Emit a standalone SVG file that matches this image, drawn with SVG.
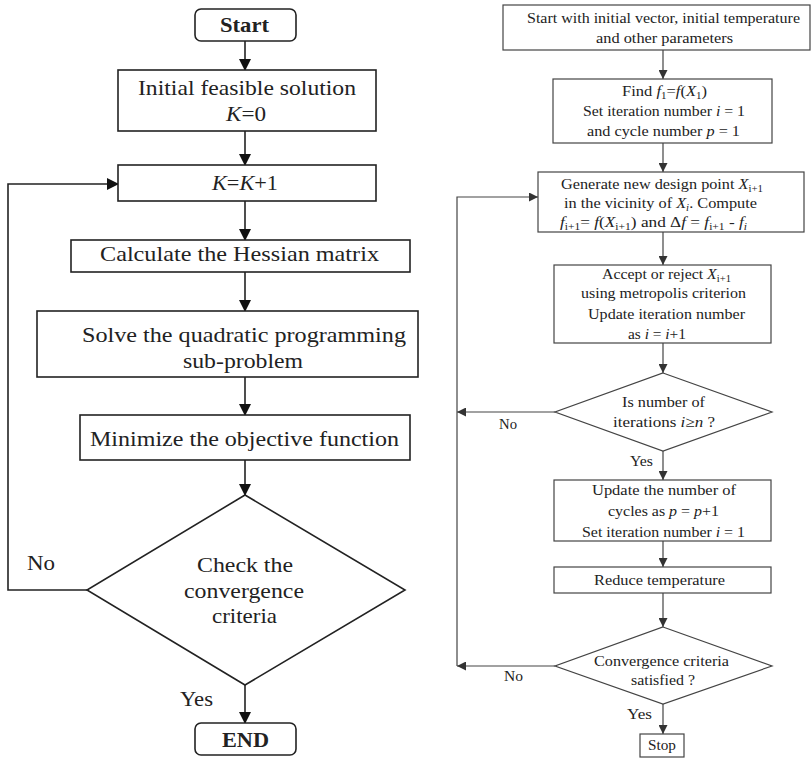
<svg xmlns="http://www.w3.org/2000/svg" width="811" height="758" viewBox="0 0 811 758">
<style>
.bg{fill:#fff}
.L{fill:#fff;stroke:#222;stroke-width:1.6}
.R{fill:#fff;stroke:#444;stroke-width:1.2}
.tl{font-family:"Liberation Serif","Times New Roman",serif;font-size:21px;fill:#222}
.tb{font-weight:bold}
.tr{font-family:"Liberation Serif","Times New Roman",serif;font-size:15px;fill:#222}
.i{font-style:italic}
.s{font-size:10px}
.cl{fill:none;stroke:#222;stroke-width:1.6}
.cr{fill:none;stroke:#444;stroke-width:1.2}
</style>
<defs>
<marker id="aL" markerWidth="12" markerHeight="14" refX="11" refY="6" orient="auto" markerUnits="userSpaceOnUse" viewBox="0 0 12 12">
<path d="M0,0 L12,6 L0,12 Z" fill="#111"/>
</marker>
<marker id="aR" markerWidth="9" markerHeight="9" refX="9" refY="4.5" orient="auto" markerUnits="userSpaceOnUse" viewBox="0 0 9 9">
<path d="M0,0 L9,4.5 L0,9 Z" fill="#333"/>
</marker>
</defs>
<rect class="bg" x="0" y="0" width="811" height="758"/>

<g id="connectors">
<line class="cl" x1="245" y1="41" x2="245" y2="70" marker-end="url(#aL)"/>
<line class="cl" x1="245" y1="131" x2="245" y2="165" marker-end="url(#aL)"/>
<line class="cl" x1="245" y1="201" x2="245" y2="240" marker-end="url(#aL)"/>
<line class="cl" x1="245" y1="272" x2="245" y2="311" marker-end="url(#aL)"/>
<line class="cl" x1="245" y1="377" x2="245" y2="415" marker-end="url(#aL)"/>
<line class="cl" x1="245" y1="460" x2="245" y2="495" marker-end="url(#aL)"/>
<line class="cl" x1="245" y1="685" x2="245" y2="723" marker-end="url(#aL)"/>
<polyline class="cl" points="87,590 8,590 8,184 118,184" marker-end="url(#aL)"/>

<line class="cr" x1="663" y1="50" x2="663" y2="79" marker-end="url(#aR)"/>
<line class="cr" x1="663" y1="143" x2="663" y2="172" marker-end="url(#aR)"/>
<line class="cr" x1="663" y1="232" x2="663" y2="265" marker-end="url(#aR)"/>
<line class="cr" x1="663" y1="343" x2="663" y2="373" marker-end="url(#aR)"/>
<line class="cr" x1="663" y1="451" x2="663" y2="480" marker-end="url(#aR)"/>
<line class="cr" x1="663" y1="541" x2="663" y2="567" marker-end="url(#aR)"/>
<line class="cr" x1="663" y1="593" x2="663" y2="627" marker-end="url(#aR)"/>
<line class="cr" x1="663" y1="704" x2="663" y2="734" marker-end="url(#aR)"/>
<line class="cr" x1="555" y1="412" x2="457" y2="412" marker-end="url(#aR)"/>
<line class="cr" x1="555" y1="666" x2="457" y2="666" marker-end="url(#aR)"/>
<polyline class="cr" points="457,666 457,197 538,197" marker-end="url(#aR)"/>
</g>

<g id="start">
<rect class="L" x="195" y="9" width="101" height="32" rx="6"/>
<text class="tl tb" x="220" y="32" textLength="49" lengthAdjust="spacingAndGlyphs">Start</text>
</g>
<g id="init">
<rect class="L" x="118" y="70" width="258" height="61"/>
<text class="tl" x="138" y="95" textLength="218" lengthAdjust="spacingAndGlyphs">Initial feasible solution</text>
<text class="tl" x="226" y="121" textLength="40" lengthAdjust="spacingAndGlyphs"><tspan class="i">K</tspan>=0</text>
</g>
<g id="kinc">
<rect class="L" x="118" y="165" width="258" height="36"/>
<text class="tl" x="212" y="190" textLength="66" lengthAdjust="spacingAndGlyphs"><tspan class="i">K</tspan>=<tspan class="i">K</tspan>+1</text>
</g>
<g id="hessian">
<rect class="L" x="71" y="240" width="339" height="32"/>
<text class="tl" x="100" y="261" textLength="279" lengthAdjust="spacingAndGlyphs">Calculate the Hessian matrix</text>
</g>
<g id="solve">
<rect class="L" x="37" y="311" width="381" height="66"/>
<text class="tl" x="82" y="342" textLength="324" lengthAdjust="spacingAndGlyphs">Solve the quadratic programming</text>
<text class="tl" x="183" y="368" textLength="120" lengthAdjust="spacingAndGlyphs">sub-problem</text>
</g>
<g id="minimize">
<rect class="L" x="80" y="415" width="330" height="45"/>
<text class="tl" x="90" y="446" textLength="309" lengthAdjust="spacingAndGlyphs">Minimize the objective function</text>
</g>
<g id="check">
<polygon class="L" points="245,495 405,590 245,685 87,590"/>
<text class="tl" x="197" y="572" textLength="96" lengthAdjust="spacingAndGlyphs">Check the</text>
<text class="tl" x="184" y="598" textLength="120" lengthAdjust="spacingAndGlyphs">convergence</text>
<text class="tl" x="212" y="623" textLength="65" lengthAdjust="spacingAndGlyphs">criteria</text>
</g>
<g id="end">
<rect class="L" x="195" y="723" width="101" height="32" rx="6"/>
<text class="tl tb" x="222" y="747" textLength="47" lengthAdjust="spacingAndGlyphs">END</text>
</g>
<g id="left-labels">
<text class="tl" x="27" y="570" textLength="28" lengthAdjust="spacingAndGlyphs">No</text>
<text class="tl" x="180" y="706" textLength="33" lengthAdjust="spacingAndGlyphs">Yes</text>
</g>

<g id="r-start">
<rect class="R" x="503" y="5" width="307" height="45"/>
<text class="tr" x="527" y="23" textLength="273" lengthAdjust="spacingAndGlyphs">Start with initial vector, initial temperature</text>
<text class="tr" x="596" y="43" textLength="137" lengthAdjust="spacingAndGlyphs">and other parameters</text>
</g>
<g id="r-find">
<rect class="R" x="553" y="79" width="219" height="64"/>
<text class="tr" x="622" y="96" textLength="85" lengthAdjust="spacingAndGlyphs">Find <tspan class="i">f</tspan><tspan class="s" dy="3">1</tspan><tspan dy="-3">=</tspan><tspan class="i">f</tspan>(<tspan class="i">X</tspan><tspan class="s" dy="3">1</tspan><tspan dy="-3">)</tspan></text>
<text class="tr" x="583" y="116" textLength="162" lengthAdjust="spacingAndGlyphs">Set iteration number <tspan class="i">i</tspan> = 1</text>
<text class="tr" x="587" y="136" textLength="153" lengthAdjust="spacingAndGlyphs">and cycle number <tspan class="i">p</tspan> = 1</text>
</g>
<g id="r-generate">
<rect class="R" x="538" y="172" width="266" height="60"/>
<text class="tr" x="561" y="189" textLength="202" lengthAdjust="spacingAndGlyphs">Generate new design point <tspan class="i">X</tspan><tspan class="s" dy="3">i+1</tspan></text>
<text class="tr" x="564" y="208" textLength="193" lengthAdjust="spacingAndGlyphs">in the vicinity of <tspan class="i">X</tspan><tspan class="s i" dy="3">i</tspan><tspan dy="-3">. Compute</tspan></text>
<text class="tr" x="560" y="227" textLength="187" lengthAdjust="spacingAndGlyphs"><tspan class="i">f</tspan><tspan class="s" dy="3">i+1</tspan><tspan dy="-3">= </tspan><tspan class="i">f</tspan>(<tspan class="i">X</tspan><tspan class="s" dy="3">i+1</tspan><tspan dy="-3">) and Δ</tspan><tspan class="i">f</tspan> = <tspan class="i">f</tspan><tspan class="s" dy="3">i+1</tspan><tspan dy="-3"> - </tspan><tspan class="i">f</tspan><tspan class="s i" dy="3">i</tspan></text>
</g>
<g id="r-accept">
<rect class="R" x="554" y="265" width="217" height="78"/>
<text class="tr" x="602" y="279" textLength="129" lengthAdjust="spacingAndGlyphs">Accept or reject <tspan class="i">X</tspan><tspan class="s" dy="3">i+1</tspan></text>
<text class="tr" x="581" y="298" textLength="165" lengthAdjust="spacingAndGlyphs">using metropolis criterion</text>
<text class="tr" x="588" y="319" textLength="157" lengthAdjust="spacingAndGlyphs">Update iteration number</text>
<text class="tr" x="628" y="339" textLength="58" lengthAdjust="spacingAndGlyphs">as <tspan class="i">i</tspan> = <tspan class="i">i</tspan>+1</text>
</g>
<g id="r-iter">
<polygon class="R" points="663,373 772,412 663,451 555,412"/>
<text class="tr" x="622" y="407" textLength="83" lengthAdjust="spacingAndGlyphs">Is number of</text>
<text class="tr" x="613" y="427" textLength="102" lengthAdjust="spacingAndGlyphs">iterations <tspan class="i">i</tspan>≥<tspan class="i">n</tspan> ?</text>
</g>
<g id="r-update">
<rect class="R" x="554" y="480" width="217" height="61"/>
<text class="tr" x="592" y="495" textLength="144" lengthAdjust="spacingAndGlyphs">Update the number of</text>
<text class="tr" x="608" y="516" textLength="111" lengthAdjust="spacingAndGlyphs">cycles as <tspan class="i">p</tspan> = <tspan class="i">p</tspan>+1</text>
<text class="tr" x="582" y="537" textLength="163" lengthAdjust="spacingAndGlyphs">Set iteration number <tspan class="i">i</tspan> = 1</text>
</g>
<g id="r-reduce">
<rect class="R" x="554" y="567" width="217" height="26"/>
<text class="tr" x="594" y="585" textLength="131" lengthAdjust="spacingAndGlyphs">Reduce temperature</text>
</g>
<g id="r-conv">
<polygon class="R" points="663,627 772,666 663,704 555,666"/>
<text class="tr" x="594" y="666" textLength="135" lengthAdjust="spacingAndGlyphs">Convergence criteria</text>
<text class="tr" x="631" y="685" textLength="64" lengthAdjust="spacingAndGlyphs">satisfied ?</text>
</g>
<g id="r-stop">
<rect class="R" x="640" y="734" width="44" height="23"/>
<text class="tr" x="648" y="750" textLength="28" lengthAdjust="spacingAndGlyphs">Stop</text>
</g>
<g id="right-labels">
<text class="tr" x="499" y="429" textLength="18" lengthAdjust="spacingAndGlyphs">No</text>
<text class="tr" x="630" y="466" textLength="23" lengthAdjust="spacingAndGlyphs">Yes</text>
<text class="tr" x="504" y="681" textLength="19" lengthAdjust="spacingAndGlyphs">No</text>
<text class="tr" x="627" y="719" textLength="25" lengthAdjust="spacingAndGlyphs">Yes</text>
</g>
</svg>
